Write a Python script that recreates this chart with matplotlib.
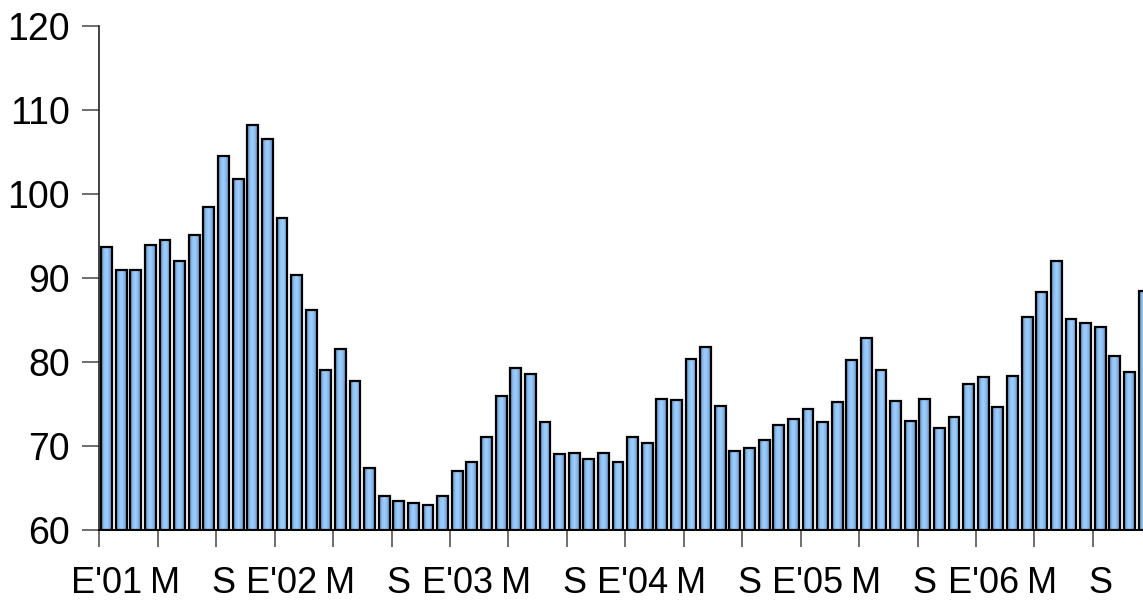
import numpy as np
import matplotlib.pyplot as plt
from matplotlib.colors import LinearSegmentedColormap

plt.rcParams['font.family'] = ['Liberation Sans', 'DejaVu Sans']

# monthly values, Jan 2001 - Dec 2006
y2001 = [93.7, 91.0, 91.0, 93.9, 94.5, 92.0, 95.1, 98.4, 104.5, 101.8, 108.2, 106.5]
y2002 = [97.1, 90.3, 86.2, 79.0, 81.6, 77.7, 67.4, 64.0, 63.4, 63.2, 63.0, 64.0]
y2003 = [67.0, 68.1, 71.1, 76.0, 79.3, 78.6, 72.9, 69.0, 69.2, 68.4, 69.2, 68.1]
y2004 = [71.1, 70.3, 75.6, 75.5, 80.3, 81.8, 74.8, 69.4, 69.8, 70.7, 72.5, 73.2]
y2005 = [74.4, 72.9, 75.2, 80.2, 82.9, 79.1, 75.4, 73.0, 75.6, 72.1, 73.4, 77.4]
y2006 = [78.2, 74.7, 78.3, 85.3, 88.3, 92.0, 85.1, 84.6, 84.2, 80.7, 78.8, 88.5]
values = y2001 + y2002 + y2003 + y2004 + y2005 + y2006

years = ["'01", "'02", "'03", "'04", "'05", "'06"]
tick_labels = []
for yr in years:
    tick_labels += ["E" + yr, "M", "S"]

fig = plt.figure(figsize=(11.43, 6.0), dpi=100)
ax = fig.add_axes([99.3 / 1143, 70 / 600, 1052 / 1143, 504 / 600])

x = np.arange(len(values))
bars = ax.bar(x, np.array(values) - 60, bottom=60, width=0.74,
              color='none', edgecolor='black', linewidth=1.6, zorder=3)

# horizontal shading inside each bar
shade = LinearSegmentedColormap.from_list(
    'shade', ['#50809f', '#8abcf0', '#9fd0ff', '#88b8ea', '#5f8ec0'])
grad = np.linspace(0, 1, 64).reshape(1, -1)
for b in bars:
    bx, by = b.get_x(), b.get_y()
    im = ax.imshow(grad, cmap=shade, aspect='auto', zorder=2,
                   extent=[bx, bx + b.get_width(), by, by + b.get_height()])
    im.set_clip_path(b)

ax.set_xlim(-0.5, len(values) - 0.5)
ax.set_ylim(60, 120)
ax.set_yticks(np.arange(60, 121, 10))

ax.set_xticks(np.arange(0, len(values), 4))
ax.set_xticklabels(tick_labels)
ax.set_xticks(np.arange(-0.5, len(values), 4), minor=True)
ax.tick_params(axis='x', which='major', length=0, pad=26, labelsize=26)
ax.tick_params(axis='x', which='minor', length=12, width=1.2, color='#555555')
ax.tick_params(axis='y', length=12, width=1.2, color='#555555', pad=9,
               labelsize=27)

for s in ['top', 'right']:
    ax.spines[s].set_visible(False)
ax.spines['left'].set_color('#222222')
ax.spines['bottom'].set_color('black')
ax.spines['left'].set_linewidth(1.2)
ax.spines['bottom'].set_linewidth(1.4)

fig.savefig('out.png', dpi=100)
